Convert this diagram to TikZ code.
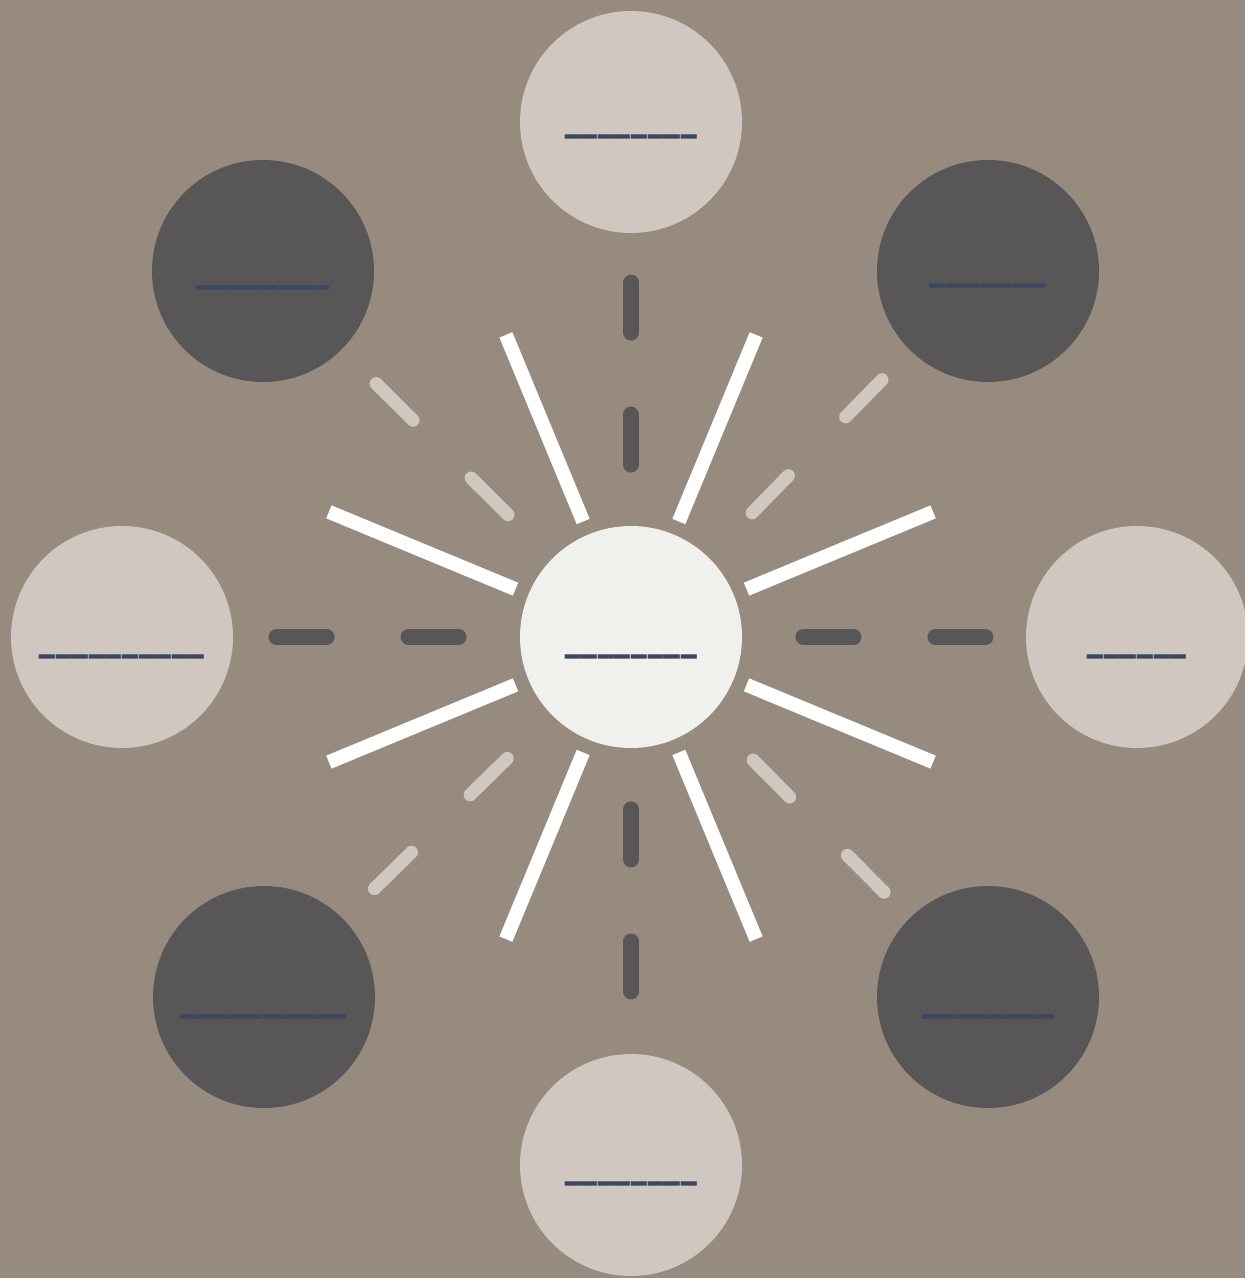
\documentclass[tikz,border=0pt]{standalone}
\usepackage{fontspec}
\usepackage{graphicx}
\newfontfamily\lblfont{DejaVu Sans}[LetterSpace=3.5]
\usetikzlibrary{positioning}
\definecolor{bgtaupe}{RGB}{151,138,126}
\definecolor{lightcirc}{RGB}{208,199,193}
\definecolor{darkcirc}{RGB}{88,86,87}
\definecolor{hubfill}{RGB}{240,240,236}
\definecolor{lblnavy}{RGB}{59,70,96}
\newcommand{\blanks}[1]{\scalebox{1}[2]{#1}}
\tikzset{
  hub/.style={circle, fill=hubfill, minimum size=111pt, inner sep=0pt},
  lightnode/.style={circle, fill=lightcirc, minimum size=111pt, inner sep=0pt},
  darknode/.style={circle, fill=darkcirc, minimum size=111pt, inner sep=0pt},
  lbl/.style={font=\lblfont\fontsize{15.5}{18}\selectfont, text=lblnavy,
    inner sep=0pt},
  ray/.style={white, line width=7pt},
  darklink/.style={darkcirc, line width=8pt, line cap=round,
    dash pattern=on 25pt off 41pt, dash phase=35.5pt},
  lightlink/.style={lightcirc, line width=6.5pt, line cap=round,
    dash pattern=on 26pt off 41pt, dash phase=36pt}
}

\begin{document}
\begin{tikzpicture}[x=0.5pt, y=-0.5pt]
  \useasboundingbox (0,0) rectangle (1245,1278);
  \fill[bgtaupe] (0,0) rectangle (1245,1278);

  \node[hub, label={[lbl, yshift=-7.25pt]center:\blanks{\_\_\_\_\_\_\_\_}}] (hub) at (631,637) {};
  \node[lightnode, label={[lbl, yshift=-4.75pt]center:\blanks{\_\_\_\_\_\_\_\_}}] (ntop) at (631,122) {};
  \node[lightnode, label={[lbl, yshift=-6.75pt]center:\blanks{\_\_\_\_\_\_\_\_}}] (nbot) at (631,1165) {};
  \node[lightnode, label={[lbl, yshift=-7.25pt]center:\blanks{\_\_\_\_\_\_\_\_\_\_}}] (nleft) at (122,637) {};
  \node[lightnode, label={[lbl, yshift=-7.25pt]center:\blanks{\_\_\_\_\_\_}}] (nright) at (1137,637) {};
  \node[darknode, label={[lbl, yshift=-5.75pt]center:\blanks{\_\_\_\_\_\_\_\_}}] (ntl) at (263,271) {};
  \node[darknode, label={[lbl, yshift=-4.75pt]center:\blanks{\_\_\_\_\_\_\_}}] (ntr) at (988,271) {};
  \node[darknode, label={[lbl, yshift=-7.25pt]center:\blanks{\_\_\_\_\_\_\_\_\_\_}}] (nbl) at (264,997) {};
  \node[darknode, label={[lbl, yshift=-7.25pt]center:\blanks{\_\_\_\_\_\_\_\_}}] (nbr) at (988,997) {};

  % rays round the hub
  \foreach \a in {22.5,67.5,...,337.5}
    \draw[ray] ([shift={(\a:125)}]hub.center) -- ([shift={(\a:327)}]hub.center);

  \draw[darklink] (hub) -- (ntop);
  \draw[darklink] (hub) -- (nbot);
  \draw[darklink] (hub) -- (nleft);
  \draw[darklink] (hub) -- (nright);
  \draw[lightlink] (hub) -- (ntl);
  \draw[lightlink] (hub) -- (ntr);
  \draw[lightlink] (hub) -- (nbl);
  \draw[lightlink] (hub) -- (nbr);
\end{tikzpicture}
\end{document}
